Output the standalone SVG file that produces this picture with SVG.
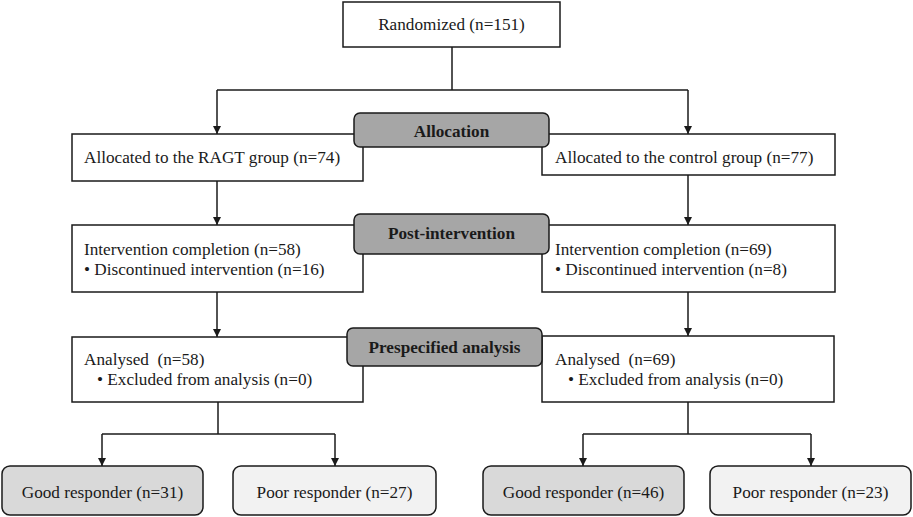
<svg xmlns="http://www.w3.org/2000/svg" width="913" height="517" viewBox="0 0 913 517">
<defs>
<style>
.box{fill:#fff;stroke:#1a1a1a;stroke-width:1.5}
.lbl{fill:#a6a6a6;stroke:#1a1a1a;stroke-width:1.5}
.good{fill:#d9d9d9;stroke:#1a1a1a;stroke-width:1.5}
.poor{fill:#f2f2f2;stroke:#1a1a1a;stroke-width:1.5}
text{font-family:"Liberation Serif","Times New Roman",serif;font-size:17.2px;fill:#1a1a1a;white-space:pre}
.b{font-weight:bold}
.c{text-anchor:middle}
.ln{fill:none;stroke:#1a1a1a;stroke-width:1.5}
</style>
<marker id="ah" viewBox="0 0 10 10" refX="10" refY="5" markerWidth="10" markerHeight="8" markerUnits="userSpaceOnUse" orient="auto">
<path d="M0,0 L10,5 L0,10 z" fill="#1a1a1a"/>
</marker>
</defs>
<rect width="913" height="517" fill="#fff"/>
<g id="connectors">
<path class="ln" d="M452,47 V90"/>
<path class="ln" d="M217,90 H688"/>
<path class="ln" d="M217,90 V134" marker-end="url(#ah)"/>
<path class="ln" d="M688,90 V134" marker-end="url(#ah)"/>
<path class="ln" d="M217,181 V225" marker-end="url(#ah)"/>
<path class="ln" d="M688,175 V225" marker-end="url(#ah)"/>
<path class="ln" d="M217,292 V337" marker-end="url(#ah)"/>
<path class="ln" d="M688,292 V336" marker-end="url(#ah)"/>
<path class="ln" d="M218,402 V434"/>
<path class="ln" d="M102,434 H335"/>
<path class="ln" d="M102,434 V466" marker-end="url(#ah)"/>
<path class="ln" d="M335,434 V466" marker-end="url(#ah)"/>
<path class="ln" d="M688,402 V434"/>
<path class="ln" d="M583,434 H811"/>
<path class="ln" d="M583,434 V466" marker-end="url(#ah)"/>
<path class="ln" d="M811,434 V466" marker-end="url(#ah)"/>
</g>
<g id="randomized">
<rect class="box" x="343" y="2" width="217" height="45"/>
<text class="c" x="451.5" y="30">Randomized (n=151)</text>
</g>
<g id="alloc-ragt">
<rect class="box" x="72" y="134" width="291" height="47"/>
<text x="84" y="163">Allocated to the RAGT group (n=74)</text>
</g>
<g id="alloc-control">
<rect class="box" x="542" y="134" width="293" height="41"/>
<text x="555" y="163">Allocated to the control group (n=77)</text>
</g>
<g id="allocation-label">
<rect class="lbl" x="354" y="113" width="195" height="34" rx="6"/>
<text class="b c" x="451.5" y="137">Allocation</text>
</g>
<g id="post-ragt">
<rect class="box" x="72" y="225" width="291" height="67"/>
<text x="84" y="255">Intervention completion (n=58)</text>
<text x="84" y="275">• Discontinued intervention (n=16)</text>
</g>
<g id="post-control">
<rect class="box" x="542" y="225" width="293" height="67"/>
<text x="555" y="255">Intervention completion (n=69)</text>
<text x="555" y="275">• Discontinued intervention (n=8)</text>
</g>
<g id="post-label">
<rect class="lbl" x="354" y="214" width="195" height="40" rx="6"/>
<text class="b c" x="451.5" y="239">Post-intervention</text>
</g>
<g id="analysed-ragt">
<rect class="box" x="72" y="337" width="291" height="65"/>
<text x="84" y="365">Analysed  (n=58)</text>
<text x="97" y="385">• Excluded from analysis (n=0)</text>
</g>
<g id="analysed-control">
<rect class="box" x="542" y="336" width="292" height="66"/>
<text x="555" y="365">Analysed  (n=69)</text>
<text x="568" y="385">• Excluded from analysis (n=0)</text>
</g>
<g id="prespecified-label">
<rect class="lbl" x="347" y="328" width="195" height="38" rx="6"/>
<text class="b c" x="444.5" y="353">Prespecified analysis</text>
</g>
<g id="good-ragt">
<rect class="good" x="2" y="466" width="201" height="49" rx="8"/>
<text class="c" x="102.5" y="498">Good responder (n=31)</text>
</g>
<g id="poor-ragt">
<rect class="poor" x="233" y="466" width="203" height="49" rx="8"/>
<text class="c" x="334.5" y="498">Poor responder (n=27)</text>
</g>
<g id="good-control">
<rect class="good" x="483" y="466" width="201" height="49" rx="8"/>
<text class="c" x="583.5" y="498">Good responder (n=46)</text>
</g>
<g id="poor-control">
<rect class="poor" x="710" y="466" width="201" height="49" rx="8"/>
<text class="c" x="810.5" y="498">Poor responder (n=23)</text>
</g>
</svg>
